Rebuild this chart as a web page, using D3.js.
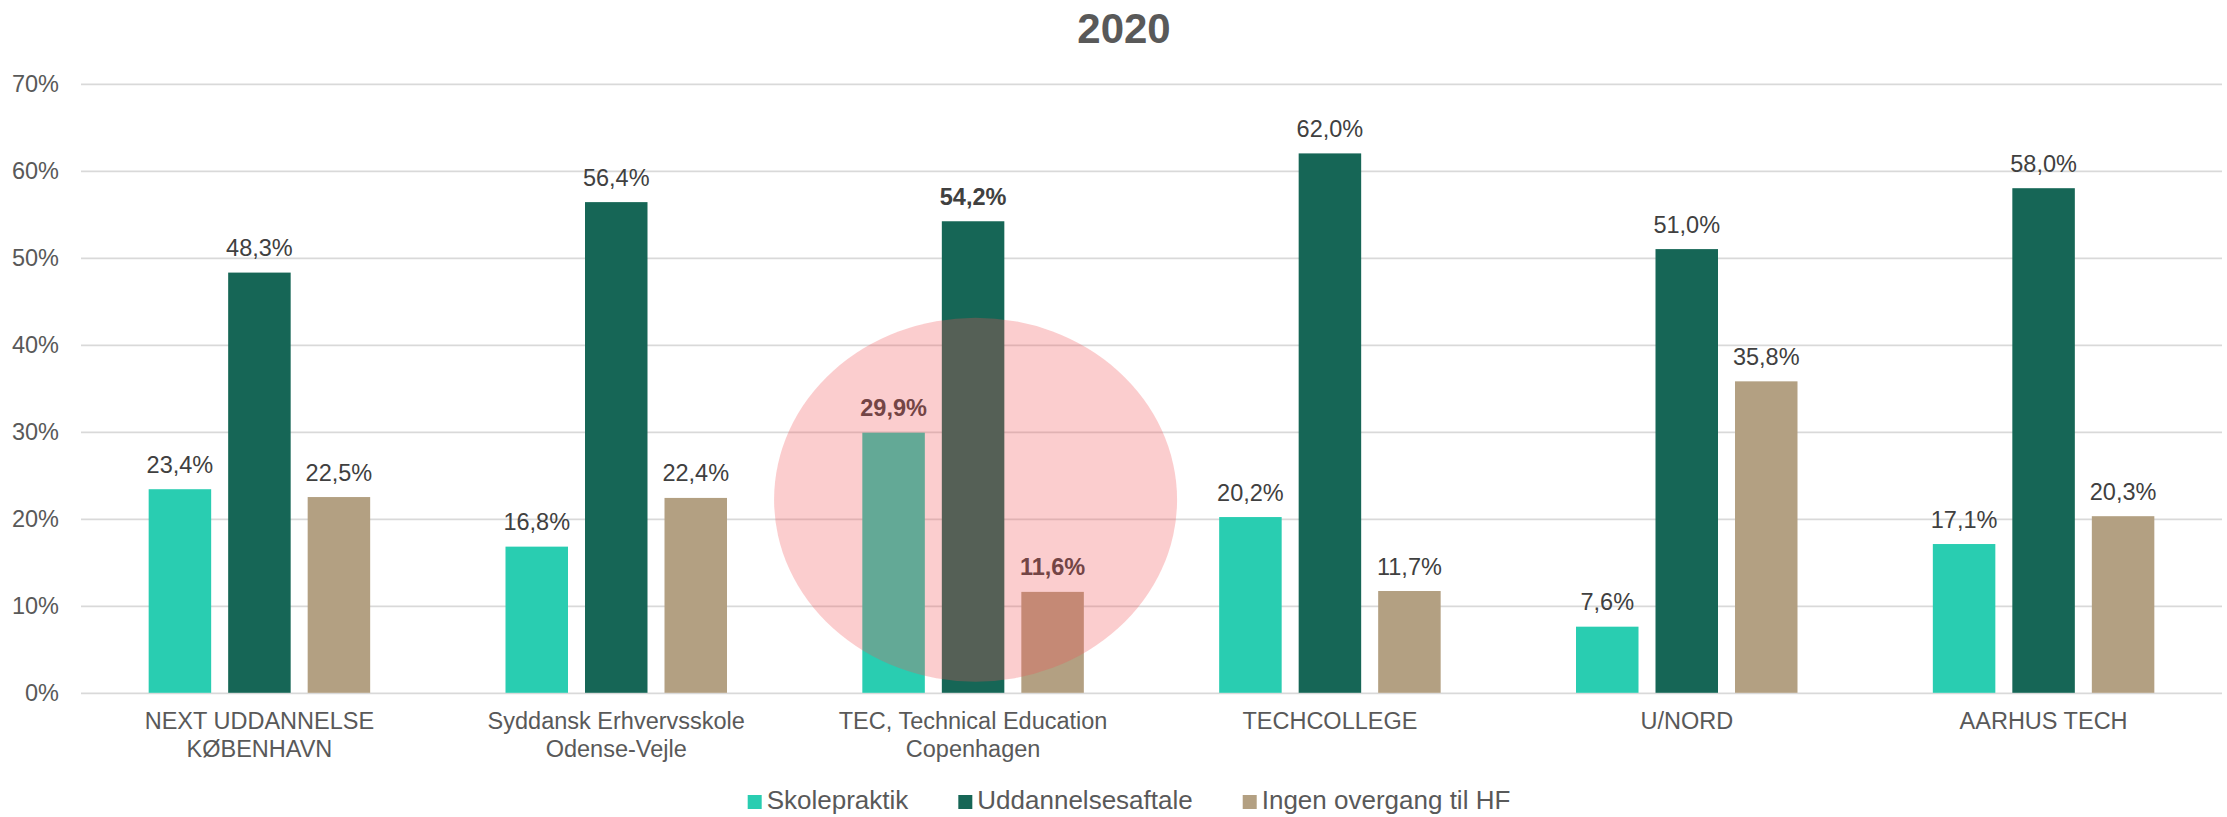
<!DOCTYPE html>
<html>
<head>
<meta charset="utf-8">
<script src="https://cdn.jsdelivr.net/npm/d3@7"></script>
<style>
  html, body { margin: 0; padding: 0; background: #ffffff; }
  svg { display: block; font-family: "Liberation Sans", Arial, sans-serif; }
</style>
</head>
<body>
<svg id="chart" width="2227" height="817"></svg>
<script>
// ---- data ----
const title = "2020";
const categories = [
  "NEXT UDDANNELSE\nKØBENHAVN",
  "Syddansk Erhvervsskole\nOdense-Vejle",
  "TEC, Technical Education\nCopenhagen",
  "TECHCOLLEGE",
  "U/NORD",
  "AARHUS TECH"
];
const seriesNames = ["Skolepraktik", "Uddannelsesaftale", "Ingen overgang til HF"];
const skolepraktik      = [23.4, 16.8, 29.9, 20.2, 7.6, 17.1];
const uddannelsesaftale = [48.3, 56.4, 54.2, 62.0, 51.0, 58.0];
const ingenOvergang     = [22.5, 22.4, 11.6, 11.7, 35.8, 20.3];
const yTicks = [0, 10, 20, 30, 40, 50, 60, 70];
const highlightedCategory = "TEC, Technical Education\nCopenhagen";
const highlightCenterValue = 22.2;

// ---- styles ----
const colors = ["#29CDB1", "#166656", "#B3A082"];
const textGray = "#595959";
const labelGray = "#404040";
const fontSize = 23.5;

const seriesValues = [skolepraktik, uddannelsesaftale, ingenOvergang];
const rows = categories.map((c, i) => ({
  category: c,
  values: seriesNames.map((s, j) => ({ series: s, idx: j, value: seriesValues[j][i], category: c }))
}));

const svg = d3.select("#chart");
const plot = { left: 81, right: 2222, top: 83.8, bottom: 692.8 };

const x = d3.scaleBand().domain(categories).range([plot.left, plot.right]).paddingInner(0).paddingOuter(0);
const barW = 62.5, barGap = 17;
const groupW = 3 * barW + 2 * barGap;
const x1 = d3.scaleBand().domain(seriesNames)
  .range([-groupW / 2, groupW / 2])
  .paddingInner(barGap / (barW + barGap)).paddingOuter(0);
const y = d3.scaleLinear().domain([0, 70]).range([plot.bottom, plot.top]);

const fmt = v => d3.format(".1f")(v).replace(".", ",") + "%";

// title
svg.append("text")
  .attr("x", 1124).attr("y", 43)
  .attr("text-anchor", "middle")
  .attr("font-size", 42).attr("font-weight", "bold")
  .attr("fill", textGray)
  .text(title);

// y axis + gridlines
const yAxis = d3.axisLeft(y).tickValues(yTicks)
  .tickSize(-(plot.right - plot.left)).tickPadding(22)
  .tickFormat(d => d + "%");
const gy = svg.append("g").attr("transform", `translate(${plot.left},0)`).call(yAxis);
gy.select(".domain").remove();
gy.selectAll(".tick line").attr("stroke", "#d9d9d9").attr("stroke-width", 1.75);
gy.selectAll(".tick text").attr("font-size", fontSize).attr("fill", textGray)
  .attr("font-family", '"Liberation Sans", Arial, sans-serif');

// x axis labels
const xAxis = d3.axisBottom(x).tickSize(0).tickPadding(0);
const gx = svg.append("g").attr("transform", `translate(0,${plot.bottom})`).call(xAxis);
gx.select(".domain").remove();
gx.selectAll(".tick text").each(function(d) {
  const t = d3.select(this);
  t.text(null).attr("y", 0).attr("dy", null)
    .attr("font-size", fontSize).attr("fill", textGray)
    .attr("font-family", '"Liberation Sans", Arial, sans-serif');
  d.split("\n").forEach((line, i) => {
    t.append("tspan").attr("x", 0).attr("y", 36.5 + i * 27.5).text(line);
  });
});

// bars
const groups = svg.append("g").selectAll("g.grp").data(rows).join("g")
  .attr("class", "grp")
  .attr("transform", d => `translate(${x(d.category) + x.bandwidth() / 2},0)`);

groups.selectAll("rect").data(d => d.values).join("rect")
  .attr("x", d => x1(d.series))
  .attr("width", x1.bandwidth())
  .attr("y", d => y(d.value))
  .attr("height", d => y(0) - y(d.value))
  .attr("fill", d => colors[d.idx]);

groups.selectAll("text.lbl").data(d => d.values).join("text")
  .attr("class", "lbl")
  .attr("x", d => x1(d.series) + x1.bandwidth() / 2)
  .attr("y", d => y(d.value) - 16.5)
  .attr("text-anchor", "middle")
  .attr("font-size", fontSize)
  .attr("font-weight", d => d.category === highlightedCategory ? "bold" : "normal")
  .attr("fill", labelGray)
  .text(d => fmt(d.value));

// highlight ellipse
svg.append("ellipse")
  .attr("cx", x(highlightedCategory) + x.bandwidth() / 2 + 2.5)
  .attr("cy", y(highlightCenterValue))
  .attr("rx", 201.5).attr("ry", 182)
  .attr("fill", "rgb(240,82,85)")
  .attr("fill-opacity", 0.29);

// legend
const legendFont = 26;
const legendGap = 50;
const legend = svg.append("g");
let cursor = 0;
seriesNames.forEach((s, i) => {
  const item = legend.append("g").attr("transform", `translate(${cursor},0)`);
  item.append("rect").attr("x", 0).attr("y", -14).attr("width", 14).attr("height", 14).attr("fill", colors[i]);
  const t = item.append("text").attr("x", 19).attr("y", 0)
    .attr("font-size", legendFont).attr("fill", textGray).text(s);
  const w = t.node().getComputedTextLength();
  cursor += 19 + w + legendGap;
});
const legendWidth = cursor - legendGap;
legend.attr("transform", `translate(${1129 - legendWidth / 2},809)`);
</script>
</body>
</html>
